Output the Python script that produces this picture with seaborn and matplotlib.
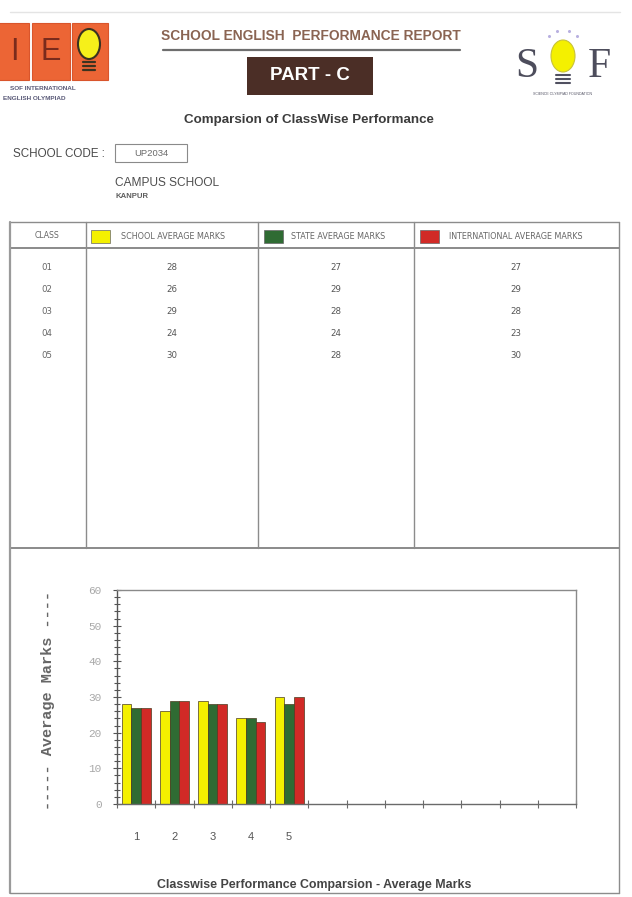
import numpy as np
import pandas as pd
import matplotlib
matplotlib.use('Agg')
import matplotlib.pyplot as plt
from matplotlib.patches import Rectangle, Ellipse
from matplotlib.ticker import MultipleLocator, FixedLocator
import seaborn as sns

classes = ['01', '02', '03', '04', '05']
school_avg = [28, 26, 29, 24, 30]
state_avg = [27, 29, 28, 24, 28]
intl_avg = [27, 29, 28, 23, 30]
series_names = ['SCHOOL AVERAGE MARKS', 'STATE AVERAGE MARKS', 'INTERNATIONAL AVERAGE MARKS']
series_colors = ['#f4f000', '#2f6b33', '#d12a26']
slot_labels = [str(i) for i in range(1, 13)]  # chart leaves room for 12 classes

sns.set_theme(style='white')
plt.rcParams['font.family'] = ['Liberation Sans', 'DejaVu Sans']

W, H = 632, 897
fig = plt.figure(figsize=(W / 100, H / 100), dpi=100)
fig.patch.set_facecolor('white')

# page layer in pixel coordinates
page = fig.add_axes([0, 0, 1, 1])
page.set_xlim(0, W)
page.set_ylim(H, 0)
page.axis('off')

# faint page edge
page.plot([10, 620], [12, 12], color='#e4e4e4', lw=1)

# IEO logo
for x0, w in [(-6, 35), (32, 38), (72, 36)]:
    page.add_patch(Rectangle((x0, 23), w, 57, fc='#ec6535', ec='#d9552c', lw=0.8))
page.text(14, 52, 'I', fontsize=22, color='#7a2b1c', ha='center', va='center')
page.text(51, 52, 'E', fontsize=22, color='#7a2b1c', ha='center', va='center')
page.add_patch(Ellipse((89, 44), 22, 30, fc='#f6f01a', ec='#3a3320', lw=1.5))
for yy in [62, 66, 70]:
    page.plot([83, 95], [yy, yy], color='#3a3320', lw=1.6)
page.text(10, 88, 'SOF INTERNATIONAL', fontsize=4.6, fontweight='bold', color='#5a5a78', va='center')
page.text(3, 99, 'ENGLISH OLYMPIAD', fontsize=4.6, fontweight='bold', color='#5a5a78', va='center')

# report title
page.text(311, 36, 'SCHOOL ENGLISH  PERFORMANCE REPORT', fontsize=9.9, fontweight='bold',
          color='#8a6452', ha='center', va='center')
page.plot([163, 460], [50, 50], color='#6e6e6e', lw=1.6)
page.add_patch(Rectangle((247, 57), 126, 38, fc='#4b2e26', ec='none'))
page.text(310, 76, 'PART - C', fontsize=13.5, fontweight='bold', color='white', ha='center', va='center')

# SOF logo
page.text(527, 67, 'S', family='Liberation Serif', fontsize=30, color='#4d4d5c', ha='center', va='center')
page.text(599, 67, 'F', family='Liberation Serif', fontsize=30, color='#4d4d5c', ha='center', va='center')
page.add_patch(Ellipse((563, 56), 24, 32, fc='#f4f000', ec='#c8c23a', lw=0.8))
for yy in [75, 79, 83]:
    page.plot([556, 570], [yy, yy], color='#505060', lw=1.5)
for dx, dy in [(-14, -16), (-6, -21), (6, -21), (14, -16)]:
    page.plot(563 + dx, 52 + dy, marker='o', ms=1.2, color='#b8b0e0')
page.text(563, 94, 'SCIENCE OLYMPIAD FOUNDATION', fontsize=2.6, color='#555566', ha='center', va='center')

page.text(309, 120, 'Comparsion of ClassWise Performance', fontsize=9.6, fontweight='bold',
          color='#3c3c3c', ha='center', va='center')

# school details
page.text(105, 154, 'SCHOOL CODE :', fontsize=8.4, color='#4a4a4a', ha='right', va='center')
page.add_patch(Rectangle((115, 144), 72, 18, fc='white', ec='#8a8a8a', lw=0.8))
page.text(151, 153, 'UP2034', fontsize=6.8, color='#6a6a6a', ha='center', va='center')
page.text(115, 183, 'CAMPUS SCHOOL', fontsize=8.6, color='#4e4e4e', va='center')
page.text(115, 196, 'KANPUR', fontsize=5.6, fontweight='bold', color='#5e5e5e', va='center')

# table
frame_c = '#8c8c8c'
page.plot([10, 619], [222, 222], color=frame_c, lw=1)
page.plot([10, 619], [248, 248], color='#777777', lw=1.2)
page.plot([10, 619], [548, 548], color='#777777', lw=1.2)
page.plot([10, 10], [222, 893], color='#9a9a9a', lw=1.6)
page.plot([619, 619], [222, 893], color=frame_c, lw=1)
page.plot([10, 619], [893, 893], color=frame_c, lw=1)
col_x = [86, 258, 414]
for cx in col_x:
    page.plot([cx, cx], [222, 548], color=frame_c, lw=1)

tbl_font = 'DejaVu Sans'
page.text(47, 236, 'CLASS', family=tbl_font, fontsize=5.6, color='#666666', ha='center', va='center')
sw_x = [91, 264, 420]
txt_x = [121, 291, 449]
for sx, tx, name, col in zip(sw_x, txt_x, series_names, series_colors):
    page.add_patch(Rectangle((sx, 230), 19, 13, fc=col, ec='#666666', lw=0.5))
    page.text(tx, 236.5, name, family=tbl_font, fontsize=5.8, color='#666666', va='center')

row_y = [267, 289, 311, 334, 356]
col_centers = [172, 336, 516]
for i, cls in enumerate(classes):
    page.text(47, row_y[i], cls, family=tbl_font, fontsize=6.2, color='#666666', ha='center', va='center')
    for cc, vals in zip(col_centers, [school_avg, state_avg, intl_avg]):
        page.text(cc, row_y[i], str(vals[i]), family=tbl_font, fontsize=6.2, color='#555555',
                  ha='center', va='center')

# chart
df = pd.DataFrame({
    'cls': [str(int(c)) for c in classes] * 3,
    'series': np.repeat(series_names, len(classes)),
    'value': school_avg + state_avg + intl_avg,
})

ax = fig.add_axes([117 / W, 1 - 804 / H, 459 / W, 214 / H])
sns.barplot(data=df, x='cls', y='value', hue='series', order=slot_labels,
            hue_order=series_names, palette=series_colors, saturation=1, width=0.76,
            edgecolor='#4a3c20', linewidth=0.5, legend=False, ax=ax)
ax.set_xlim(-0.5, 11.5)
ax.set_ylim(0, 60)
ax.set_facecolor('white')

ax.xaxis.set_major_locator(FixedLocator(range(12)))
ax.set_xticklabels([s if int(s) <= len(classes) else '' for s in slot_labels])
ax.xaxis.set_minor_locator(FixedLocator(np.arange(-0.5, 12, 1)))
ax.tick_params(axis='x', which='major', length=0, pad=20, labelsize=8, labelcolor='#555555')
ax.tick_params(axis='x', which='minor', direction='inout', length=6, width=0.8, color='#6a6a6a')
ax.tick_params(axis='x', bottom=True, which='both')

ax.yaxis.set_major_locator(MultipleLocator(10))
ax.yaxis.set_minor_locator(MultipleLocator(2))
ax.tick_params(axis='y', which='major', direction='inout', length=6, width=0.8, color='#555555',
               pad=8, labelsize=8, labelcolor='#a8a8a8', left=True)
ax.tick_params(axis='y', which='minor', direction='inout', length=4, width=0.8, color='#555555', left=True)
for lab in ax.get_yticklabels():
    lab.set_family('Liberation Mono')

for side, sp in ax.spines.items():
    sp.set_visible(True)
    sp.set_linewidth(1)
    sp.set_color('#8a8a8a')
ax.spines['left'].set_color('#555555')
ax.spines['bottom'].set_color('#6a6a6a')

ax.set_xlabel('')
ax.set_ylabel('')
page.text(48, 700, '----- Average Marks ----', family='Liberation Mono', fontsize=11,
          fontweight='bold', color='#666666', rotation=90, ha='center', va='center')
page.text(314, 885, 'Classwise Performance Comparsion - Average Marks', fontsize=8.9,
          fontweight='bold', color='#444444', ha='center', va='center')

fig.savefig('out.png', dpi=100, facecolor='white')
